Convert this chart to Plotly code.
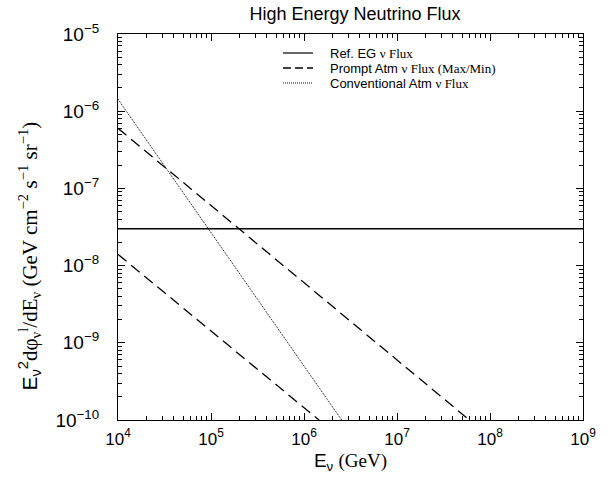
import plotly.graph_objects as go

# Data (E in GeV, E^2 dphi/dE in GeV cm^-2 s^-1 sr^-1)
eg_E = [1e4, 1e9]
eg_flux = [3.0e-8, 3.0e-8]

prompt_max_E = [1e4, 6.0e7]
prompt_max_flux = [6.0e-7, 1.0e-10]

prompt_min_E = [1e4, 1.45e6]
prompt_min_flux = [1.4e-8, 1.0e-10]

conv_E = [1e4, 2.54e6]
conv_flux = [1.43e-6, 1.0e-10]

x_decades = [4, 5, 6, 7, 8, 9]
y_decades = [-10, -9, -8, -7, -6, -5]
x_tickvals = [10.0 ** d for d in x_decades]
x_ticktext = ["10<sup>%d</sup>" % d for d in x_decades]
y_tickvals = [10.0 ** d for d in y_decades]
y_ticktext = ["10<sup>−%d</sup>" % (-d) for d in y_decades]
x_minor = [m * 10.0 ** d for d in x_decades[:-1] for m in range(2, 10)]
y_minor = [m * 10.0 ** d for d in y_decades[:-1] for m in range(2, 10)]

legend_labels = ["Ref. EG ν Flux", "Prompt Atm ν Flux (Max/Min)", "Conventional Atm ν Flux"]

TIMES = "Liberation Serif"
HELV = "Liberation Sans"

def tm(s):
    return '<span style="font-family:%s">%s</span>' % (TIMES, s)

fig = go.Figure()
fig.add_trace(go.Scatter(x=eg_E, y=eg_flux, mode="lines",
                         line=dict(color="black", width=1.3, dash="solid"), showlegend=False))
fig.add_trace(go.Scatter(x=prompt_max_E, y=prompt_max_flux, mode="lines",
                         line=dict(color="black", width=1.3, dash="11px,6px"), showlegend=False))
fig.add_trace(go.Scatter(x=prompt_min_E, y=prompt_min_flux, mode="lines",
                         line=dict(color="black", width=1.3, dash="11px,6px"), showlegend=False))
fig.add_trace(go.Scatter(x=conv_E, y=conv_flux, mode="lines",
                         line=dict(color="black", width=1, dash="1px,1px"), showlegend=False))

axis_common = dict(
    showline=True, linecolor="black", linewidth=1.2, mirror="allticks",
    ticks="inside", ticklen=7, tickwidth=1, tickcolor="black", showgrid=False, zeroline=False,
)

fig.update_layout(
    width=610, height=483,
    margin=dict(l=118, r=27, t=34, b=63),
    paper_bgcolor="white", plot_bgcolor="white",
    showlegend=False,
    xaxis=dict(type="log", range=[4, 9], tickmode="array", tickvals=x_tickvals, ticktext=x_ticktext,
               tickfont=dict(family=HELV, size=17, color="black"), ticklabelstandoff=3,
               minor=dict(tickmode="array", tickvals=x_minor, ticks="inside", ticklen=4,
                          tickwidth=1, tickcolor="black", showgrid=False),
               title=dict(text="E<sub>ν</sub> " + tm("(GeV)"), font=dict(family=HELV, size=19, color="black"), standoff=6),
               **axis_common),
    yaxis=dict(type="log", range=[-10, -5], tickmode="array", tickvals=y_tickvals, ticktext=y_ticktext,
               tickfont=dict(family=HELV, size=19, color="black"), ticklabelstandoff=14,
               minor=dict(tickmode="array", tickvals=y_minor, ticks="inside", ticklen=4,
                          tickwidth=1, tickcolor="black", showgrid=False),
               **axis_common),
    title=dict(text="High Energy Neutrino Flux", x=355 / 610, xanchor="center", y=0.972, yanchor="middle",
               font=dict(family=HELV, size=18, color="black")),
)

# y-axis title as annotation (offset below plot centre, as in the reference)
fig.add_annotation(
    text="E<sub>ν</sub><sup>2</sup>" + tm("dφ<sub>ν</sub><sup>l</sup>/dE<sub>ν</sub> (GeV cm<sup>−2</sup> s<sup>−1</sup> sr<sup>−1</sup>)"),
    xref="paper", yref="paper", x=-0.19, y=0.425, xanchor="center", yanchor="middle",
    textangle=-90, showarrow=False, font=dict(family=HELV, size=21, color="black"))

# manual legend (tight row spacing as in the reference)
leg_rows_y = [0.9508, 0.9119, 0.8731]
leg_dash = ["solid", "8px,4px", "1px,1px"]
leg_width = [1.2, 1.6, 1.0]
lines = []
for lab in legend_labels:
    helv_part, times_part = lab.split(" ν ", 1)
    lines.append('<span style="font-size:13px">%s %s</span>' % (helv_part, tm("ν " + times_part)))
fig.add_annotation(text="<br>".join(lines), xref="paper", yref="paper",
                   x=0.4538, y=leg_rows_y[1], xanchor="left", yanchor="middle", align="left",
                   showarrow=False, borderpad=0, font=dict(family=HELV, size=11.55, color="black"))
for yy, dsh, lw in zip(leg_rows_y, leg_dash, leg_width):
    fig.add_shape(type="line", xref="paper", yref="paper", x0=0.3548, x1=0.4194, y0=yy, y1=yy,
                  line=dict(color="black", width=lw, dash=dsh))

fig.write_html("out.html")
